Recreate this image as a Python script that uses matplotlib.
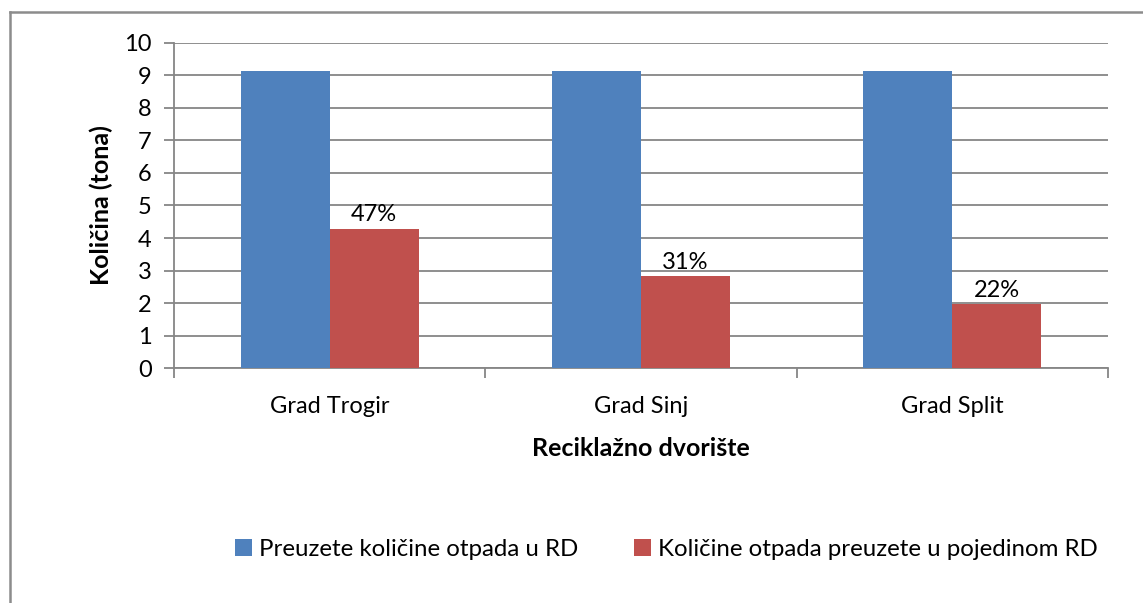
import matplotlib
matplotlib.use("Agg")
import matplotlib.pyplot as plt
from matplotlib.patches import Patch
from matplotlib.lines import Line2D
import numpy as np

categories = ["Grad Trogir", "Grad Sinj", "Grad Split"]
preuzete = [9.12, 9.12, 9.12]
pojedinom = [4.29, 2.83, 1.97]
labels_pct = ["47%", "31%", "22%"]
series_names = ["Preuzete količine otpada u RD", "Količine otpada preuzete u pojedinom RD"]
yticks = list(range(0, 11))

plt.rcParams['font.family'] = ['Lato', 'DejaVu Sans']
blue = "#4F81BD"
red = "#C0504D"
grid_c = "#868686"
fs = 17
fs_title = 18
fs_leg = 17.3

fig = plt.figure(figsize=(11.43, 6.03), dpi=100)
ax = fig.add_axes([174/1143, 1-368.3/603, (1108-174)/1143, (368.3-42.7)/603])

x = np.arange(len(categories))
w = 1/3.5
ax.bar(x - w/2, preuzete, w, color=blue, zorder=3)
rb = ax.bar(x + w/2, pojedinom, w, color=red, zorder=3)
for rect, lab in zip(rb, labels_pct):
    ax.annotate(lab, (rect.get_x() + rect.get_width()/2, rect.get_height()),
                xytext=(0, 2.5), textcoords="offset points", ha="center", va="bottom",
                fontsize=fs, color="#000000")

ax.set_xlim(-0.5, len(categories) - 0.5)
ax.set_ylim(0, 10)
ax.set_yticks(yticks)
ax.yaxis.grid(True, color=grid_c, linewidth=1.3, zorder=0)
ax.set_axisbelow(True)
for s in ["top", "right"]:
    ax.spines[s].set_visible(False)
for s in ["left", "bottom"]:
    ax.spines[s].set_color(grid_c)
    ax.spines[s].set_linewidth(1.3)

ax.set_xticks(x)
ax.set_xticklabels(categories, fontsize=fs)
ax.tick_params(axis="x", length=0, pad=20)
ax.set_xticks(np.arange(-0.5, len(categories)), minor=True)
ax.tick_params(axis="x", which="minor", length=7, color=grid_c, width=1.3)
ax.tick_params(axis="y", length=7, color=grid_c, width=1.3, labelsize=fs, pad=9)

ax.set_ylabel("Količina (tona)", fontsize=fs_title, fontweight="bold", labelpad=8)
ax.set_xlabel("Reciklažno dvorište", fontsize=fs_title, fontweight="bold", labelpad=14)

handles = [Patch(facecolor=blue), Patch(facecolor=red)]
fig.legend(handles, series_names, loc="center", bbox_to_anchor=(0.583, 1-549/603),
           ncol=2, frameon=False, fontsize=fs_leg, handlelength=0.7, handleheight=0.7,
           handletextpad=0.3, columnspacing=2.3)

# figure border (left & top visible)
fig.add_artist(Line2D([9.5/1143, 9.5/1143], [0, 1-12/603], color="#8c8c8c", linewidth=1.8, transform=fig.transFigure))
fig.add_artist(Line2D([9.5/1143, 1], [1-12/603, 1-12/603], color="#8c8c8c", linewidth=1.8, transform=fig.transFigure))

fig.savefig("out.png", dpi=100)
